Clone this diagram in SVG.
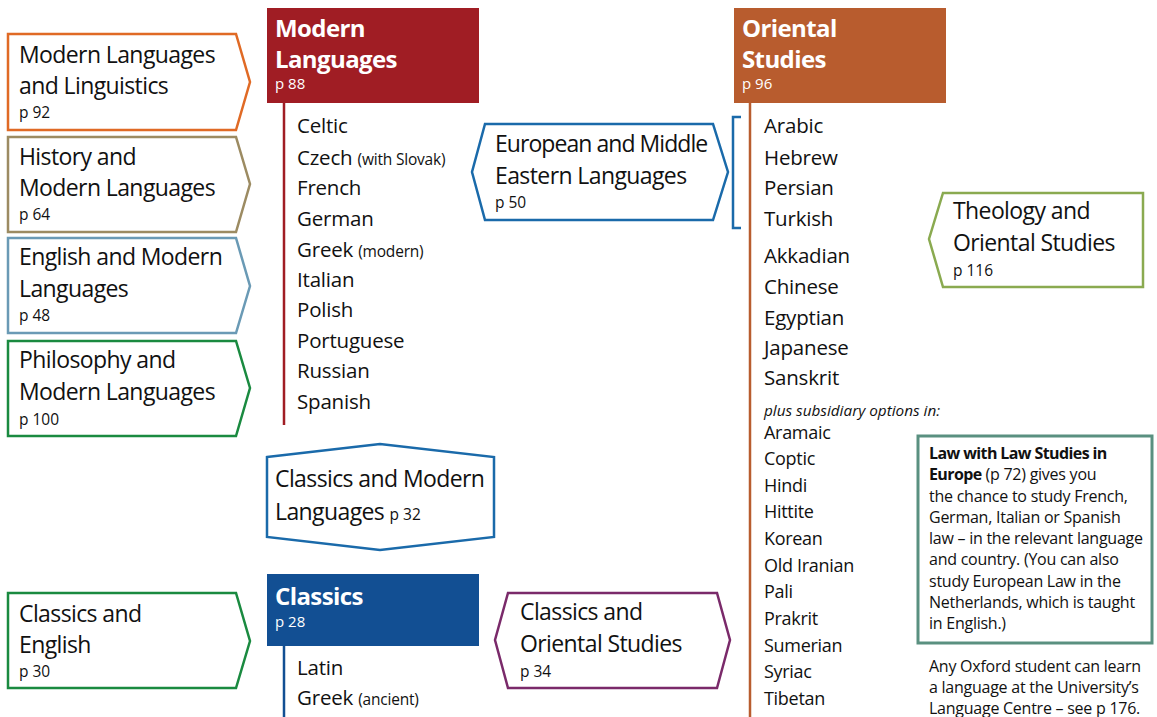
<svg xmlns="http://www.w3.org/2000/svg" width="1157" height="717" viewBox="0 0 1157 717">
<style>
text{font-family:"Open Sans","Noto Sans","DejaVu Sans",sans-serif;fill:#111}
.t{font-size:23px;letter-spacing:-0.6px}
.p{font-size:15.5px}
.l{font-size:20.5px;letter-spacing:-0.2px}
.s{font-size:15.5px}
.m{font-size:18px;letter-spacing:-0.3px}
.h{font-size:24px;font-weight:bold;fill:#fff;letter-spacing:-0.6px}
.hp{font-size:15px;fill:#fff}
.box{fill:#fff;stroke-width:2.5}
.n{font-size:16px;letter-spacing:-0.25px}
.b{font-weight:bold;letter-spacing:-0.6px}
</style>
<rect width="1157" height="717" fill="#fff"/>
<g id="connectors" fill="none" stroke-width="2.5">
<line x1="284" y1="103" x2="284" y2="425" stroke="#A01D24"/>
<line x1="750" y1="103" x2="750" y2="717" stroke="#B85C2E"/>
<line x1="284" y1="646" x2="284" y2="717" stroke="#124F93"/>
<polyline points="741,117 733,117 733,228 741,228" stroke="#1A6AAA"/>
</g>
<g id="mll">
<polygon class="box" stroke="#E06A25" points="8,34 236,34 250,82 236,130 8,130"/>
<text x="19" y="63" class="t">Modern Languages</text>
<text x="19" y="94" class="t">and Linguistics</text>
<text x="19" y="118" class="p">p 92</text>
</g>
<g id="hml">
<polygon class="box" stroke="#9C8B62" points="8,137 236,137 250,184 236,232 8,232"/>
<text x="19" y="165" class="t">History and</text>
<text x="19" y="196" class="t">Modern Languages</text>
<text x="19" y="220" class="p">p 64</text>
</g>
<g id="eml">
<polygon class="box" stroke="#6A9AB5" points="8,238 236,238 250,286 236,333 8,333"/>
<text x="19" y="265" class="t">English and Modern</text>
<text x="19" y="297" class="t">Languages</text>
<text x="19" y="321" class="p">p 48</text>
</g>
<g id="pml">
<polygon class="box" stroke="#1A8A40" points="8,341 236,341 250,388 236,436 8,436"/>
<text x="19" y="368" class="t">Philosophy and</text>
<text x="19" y="400" class="t">Modern Languages</text>
<text x="19" y="425" class="p">p 100</text>
</g>
<g id="ce">
<polygon class="box" stroke="#1A8A40" points="8,593 236,593 250,641 236,688 8,688"/>
<text x="19" y="622" class="t">Classics and</text>
<text x="19" y="653" class="t">English</text>
<text x="19" y="677" class="p">p 30</text>
</g>
<g id="modern-languages">
<rect x="267" y="8" width="212" height="95" fill="#A01D24"/>
<text x="275" y="37" class="h">Modern</text>
<text x="275" y="68" class="h">Languages</text>
<text x="275" y="89" class="hp">p 88</text>
<text x="297" y="133" class="l">Celtic</text>
<text x="297" y="165" class="l">Czech <tspan class="s">(with Slovak)</tspan></text>
<text x="297" y="195" class="l">French</text>
<text x="297" y="226" class="l">German</text>
<text x="297" y="257" class="l">Greek <tspan class="s">(modern)</tspan></text>
<text x="297" y="287" class="l">Italian</text>
<text x="297" y="317" class="l">Polish</text>
<text x="297" y="348" class="l">Portuguese</text>
<text x="297" y="378" class="l">Russian</text>
<text x="297" y="409" class="l">Spanish</text>
</g>
<g id="emel">
<polygon class="box" stroke="#1A6AAA" points="485,124 713,124 728,172 713,220 485,220 472,172"/>
<text x="495" y="152" class="t" style="letter-spacing:-0.95px">European and Middle</text>
<text x="495" y="184" class="t">Eastern Languages</text>
<text x="495" y="208" class="p">p 50</text>
</g>
<g id="oriental-studies">
<rect x="734" y="8" width="212" height="95" fill="#B85C2E"/>
<text x="742" y="37" class="h">Oriental</text>
<text x="742" y="68" class="h">Studies</text>
<text x="742" y="89" class="hp">p 96</text>
<text x="764" y="133" class="l">Arabic</text>
<text x="764" y="165" class="l">Hebrew</text>
<text x="764" y="195" class="l">Persian</text>
<text x="764" y="226" class="l">Turkish</text>
<text x="764" y="263" class="l">Akkadian</text>
<text x="764" y="294" class="l">Chinese</text>
<text x="764" y="325" class="l">Egyptian</text>
<text x="764" y="355" class="l">Japanese</text>
<text x="764" y="385" class="l">Sanskrit</text>
<text x="764" y="416" font-size="15.3" font-style="italic" fill="#333">plus subsidiary options in:</text>
<text x="764" y="439" class="m">Aramaic</text>
<text x="764" y="465" class="m">Coptic</text>
<text x="764" y="492" class="m">Hindi</text>
<text x="764" y="518" class="m">Hittite</text>
<text x="764" y="545" class="m">Korean</text>
<text x="764" y="572" class="m">Old Iranian</text>
<text x="764" y="598" class="m">Pali</text>
<text x="764" y="625" class="m">Prakrit</text>
<text x="764" y="652" class="m">Sumerian</text>
<text x="764" y="678" class="m">Syriac</text>
<text x="764" y="705" class="m">Tibetan</text>
</g>
<g id="tos">
<polygon class="box" stroke="#8AAA50" points="943,193 1143,193 1143,287 943,287 929,239"/>
<text x="953" y="219" class="t">Theology and</text>
<text x="953" y="251" class="t">Oriental Studies</text>
<text x="953" y="276" class="p">p 116</text>
</g>
<g id="cml">
<polygon class="box" stroke="#1A6AAA" points="267,457 380,444 494,457 494,537 380,550 267,537"/>
<text x="275" y="487" class="t">Classics and Modern</text>
<text x="275" y="520" class="t">Languages <tspan class="p" style="letter-spacing:0">p 32</tspan></text>
</g>
<g id="classics">
<rect x="267" y="574" width="212" height="72" fill="#124F93"/>
<text x="275" y="605" class="h">Classics</text>
<text x="275" y="627" class="hp">p 28</text>
<text x="297" y="675" class="l">Latin</text>
<text x="297" y="705" class="l">Greek <tspan class="s">(ancient)</tspan></text>
</g>
<g id="cos">
<polygon class="box" stroke="#7A2A6A" points="508,593 717,593 730,640 717,688 508,688 495,640"/>
<text x="520" y="620" class="t">Classics and</text>
<text x="520" y="652" class="t">Oriental Studies</text>
<text x="520" y="677" class="p">p 34</text>
</g>
<g id="law">
<rect x="918" y="436" width="234" height="207" fill="#fff" stroke="#5A9080" stroke-width="3"/>
<text x="929" y="459" class="n b">Law with Law Studies in</text>
<text x="929" y="480" class="n"><tspan class="b">Europe</tspan> (p 72) gives you</text>
<text x="929" y="502" class="n">the chance to study French,</text>
<text x="929" y="523" class="n">German, Italian or Spanish</text>
<text x="929" y="544" class="n">law – in the relevant language</text>
<text x="929" y="565" class="n">and country. (You can also</text>
<text x="929" y="587" class="n">study European Law in the</text>
<text x="929" y="608" class="n">Netherlands, which is taught</text>
<text x="929" y="629" class="n">in English.)</text>
</g>
<g id="note">
<text x="929" y="672" class="n">Any Oxford student can learn</text>
<text x="929" y="693" class="n">a language at the University’s</text>
<text x="929" y="714" class="n">Language Centre – see p 176.</text>
</g>
</svg>
